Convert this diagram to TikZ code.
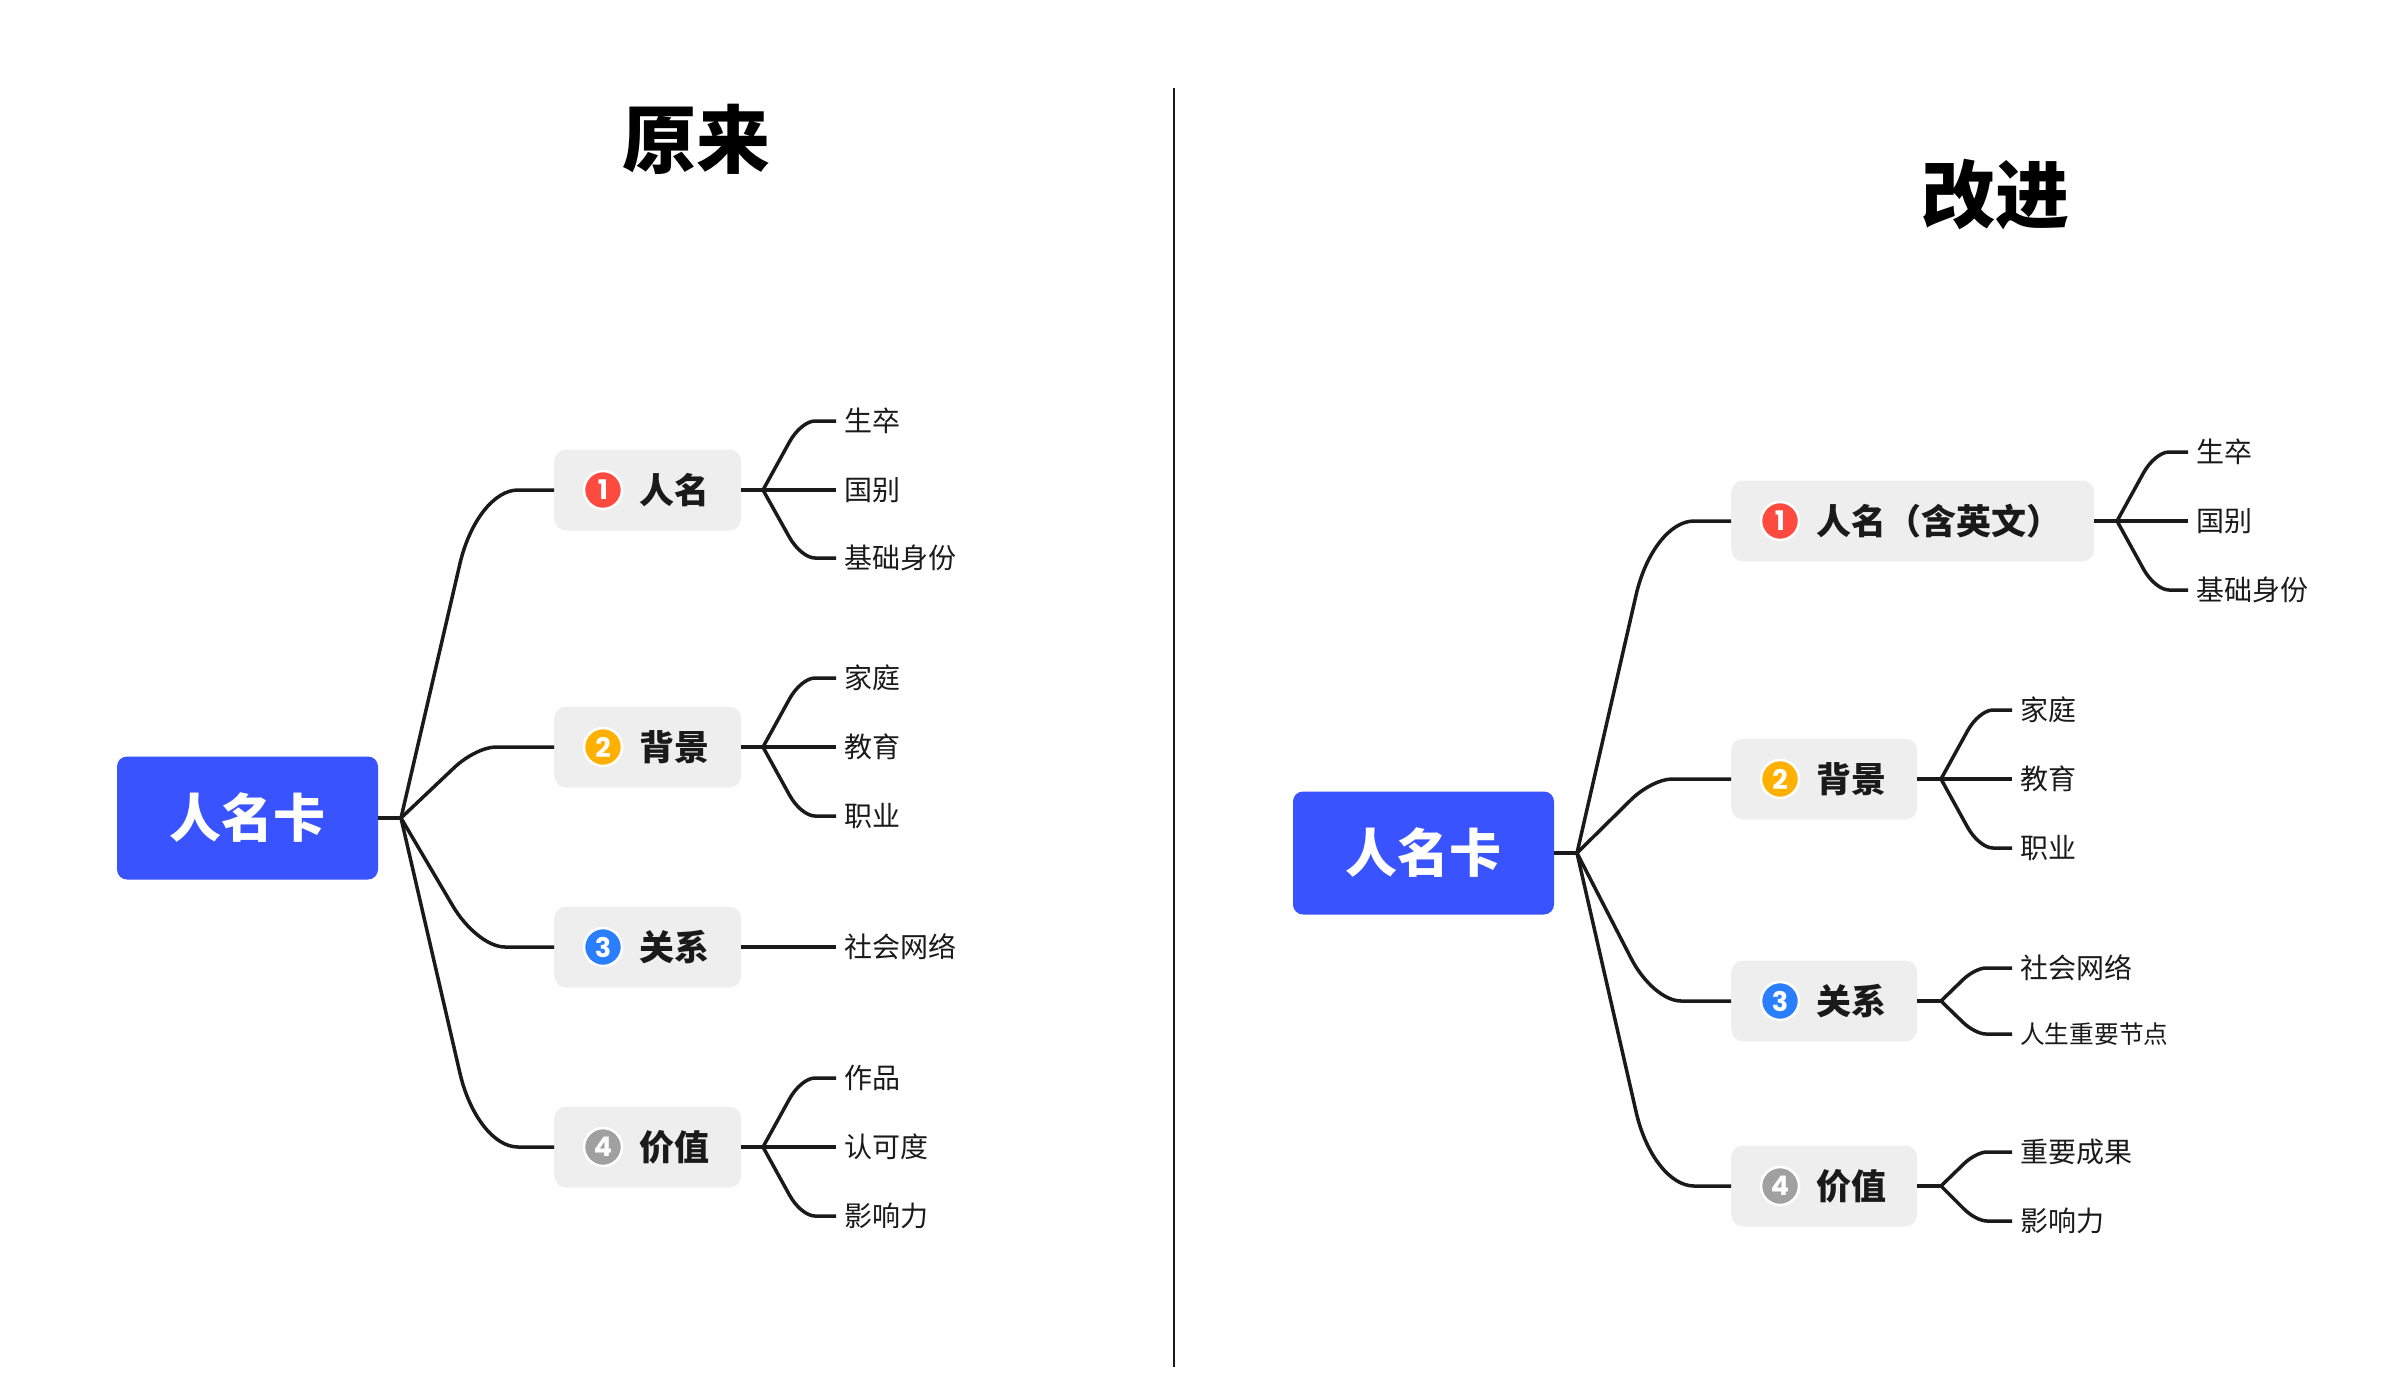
\documentclass[tikz,border=0pt]{standalone}
\usepackage{fontspec}
\usetikzlibrary{calc}
\setmainfont{Noto Sans CJK SC}
\newfontfamily\badgefont{Poppins}
\definecolor{rootblue}{HTML}{3853FF}
\definecolor{boxgray}{HTML}{EEEEEE}
\definecolor{inkline}{HTML}{1A1A1A}
\definecolor{bred}{HTML}{FF4A40}
\definecolor{bamber}{HTML}{FFB000}
\definecolor{bblue}{HTML}{2A7FFF}
\definecolor{bgray}{HTML}{A0A0A0}
\newcommand{\fs}[1]{\fontsize{#1}{#1}\selectfont}
\tikzset{
  emtext/.style={inner sep=0pt,text height=#1*0.88pt,text depth=#1*0.12pt,font=\fs{#1}},
  rootbox/.style={fill=rootblue,rounded corners=10pt,minimum width=261pt,minimum height=123pt,inner sep=0pt,text=white,emtext=52,font=\fs{52}\bfseries},
  topicbox/.style={fill=boxgray,rounded corners=12pt,minimum height=81pt,inner sep=0pt},
  topiclabel/.style={emtext=35,anchor=west,text=inkline,font=\fs{35}\bfseries},
  badge/.style={circle,fill=#1,draw=white,line width=2.5pt,minimum size=38pt,inner sep=0pt,text=white,font=\badgefont\fs{27}\bfseries},
  leaflabel/.style={emtext=28,anchor=west,inner xsep=8pt,text=inkline},
  smallleaf/.style={emtext=24.7,anchor=west,inner xsep=8pt,text=inkline},
  titletext/.style={emtext=74,text=black,font=\fs{74}\bfseries},
  conn/.style={draw=inkline,line width=3.5pt},
  divider/.style={draw=inkline,line width=2pt},
}
% \topic{name}{left x}{right x}{y}{colour}{num}{text}
\newcommand{\topic}[7]{%
  \node[topicbox,minimum width={#3-#2},anchor=west] (#1) at (#2,#4) {};
  \node[badge=#5] (#1b) at ({#2+49},#4) {#6};
  \node[topiclabel] (#1t) at ({#2+85},#4) {#7};
}
% \blink{from}{to}{corner x offset}{run before corner}{run after corner}
\newcommand{\blink}[5]{%
  \coordinate (cn) at ([xshift=#3pt]#1 |- #2.west);
  \draw[conn] (#1) -- ($(cn)!#4pt!(#1)$)
    .. controls ($(cn)!0.42*#4pt!(#1)$) and ($(cn)!0.42*#5pt!(#2.west)$)
    .. ($(cn)!#5pt!(#2.west)$) -- (#2.west);
}
\begin{document}
\begin{tikzpicture}[x=1pt,y=-1pt]
\useasboundingbox (0,0) rectangle (2386,1393);
% titles and divider
\node[titletext] (t1) at (696,139) {原来};
\node[titletext] (t2) at (1995,194) {改进};
\coordinate (d1) at (1174,88);
\coordinate (d2) at (1174,1367);
\draw[divider] (d1) -- (d2);
%%%% LEFT
\node[rootbox] (rootL) at (247.5,818) {人名卡};
\coordinate (bL) at (401,818);
\topic{a1}{554}{741}{490}{bred}{1}{人名}
\topic{a2}{554}{741}{747}{bamber}{2}{背景}
\topic{a3}{554}{741}{947}{bblue}{3}{关系}
\topic{a4}{554}{741}{1147}{bgray}{4}{价值}
\draw[conn] (rootL.east) -- (bL);
\blink{bL}{a1}{76}{76}{41}
\blink{bL}{a2}{75}{30}{20}
\blink{bL}{a3}{76}{48}{28}
\blink{bL}{a4}{76}{76}{41}
\coordinate (ba1) at (763,490);
\coordinate (ba2) at (763,747);
\coordinate (ba4) at (763,1147);
\node[leaflabel] (l11) at (836,421) {生卒};
\node[leaflabel] (l12) at (836,490) {国别};
\node[leaflabel] (l13) at (836,558) {基础身份};
\node[leaflabel] (l21) at (836,678) {家庭};
\node[leaflabel] (l22) at (836,747) {教育};
\node[leaflabel] (l23) at (836,816) {职业};
\node[leaflabel] (l31) at (836,947) {社会网络};
\node[leaflabel] (l41) at (836,1078) {作品};
\node[leaflabel] (l42) at (836,1147) {认可度};
\node[leaflabel] (l43) at (836,1216) {影响力};
\draw[conn] (a1.east) -- (l12.west);
\draw[conn] (a2.east) -- (l22.west);
\draw[conn] (a3.east) -- (l31.west);
\draw[conn] (a4.east) -- (l42.west);
\blink{ba1}{l11}{38}{24}{14}\blink{ba1}{l13}{38}{24}{14}
\blink{ba2}{l21}{38}{24}{14}\blink{ba2}{l23}{38}{24}{14}
\blink{ba4}{l41}{38}{24}{14}\blink{ba4}{l43}{38}{24}{14}
%%%% RIGHT
\node[rootbox] (rootR) at (1423.5,853) {人名卡};
\coordinate (bR) at (1577,853);
\topic{c1}{1731}{2094}{521}{bred}{1}{人名（含英文）}
\topic{c2}{1731}{1917}{779}{bamber}{2}{背景}
\topic{c3}{1731}{1917}{1001}{bblue}{3}{关系}
\topic{c4}{1731}{1917}{1186}{bgray}{4}{价值}
\draw[conn] (rootR.east) -- (bR);
\blink{bR}{c1}{76}{76}{41}
\blink{bR}{c2}{75}{30}{20}
\blink{bR}{c3}{76}{48}{28}
\blink{bR}{c4}{76}{76}{41}
\coordinate (bc1) at (2117,521);
\coordinate (bc2) at (1941,779);
\coordinate (bc3) at (1941,1001);
\coordinate (bc4) at (1941,1186);
\node[leaflabel] (r11) at (2188,452) {生卒};
\node[leaflabel] (r12) at (2188,521) {国别};
\node[leaflabel] (r13) at (2188,590) {基础身份};
\node[leaflabel] (r21) at (2012,710) {家庭};
\node[leaflabel] (r22) at (2012,779) {教育};
\node[leaflabel] (r23) at (2012,848) {职业};
\node[leaflabel] (r31) at (2012,968) {社会网络};
\node[smallleaf] (r32) at (2012,1034) {人生重要节点};
\node[leaflabel] (r41) at (2012,1152) {重要成果};
\node[leaflabel] (r42) at (2012,1221) {影响力};
\draw[conn] (c1.east) -- (r12.west);
\draw[conn] (c2.east) -- (r22.west);
\draw[conn] (c3.east) -- (bc3);
\draw[conn] (c4.east) -- (bc4);
\blink{bc1}{r11}{38}{24}{14}\blink{bc1}{r13}{38}{24}{14}
\blink{bc2}{r21}{38}{24}{14}\blink{bc2}{r23}{38}{24}{14}
\blink{bc3}{r31}{34}{17}{11}\blink{bc3}{r32}{34}{17}{11}
\blink{bc4}{r41}{35}{17}{11}\blink{bc4}{r42}{35}{17}{11}
\end{tikzpicture}
\end{document}
